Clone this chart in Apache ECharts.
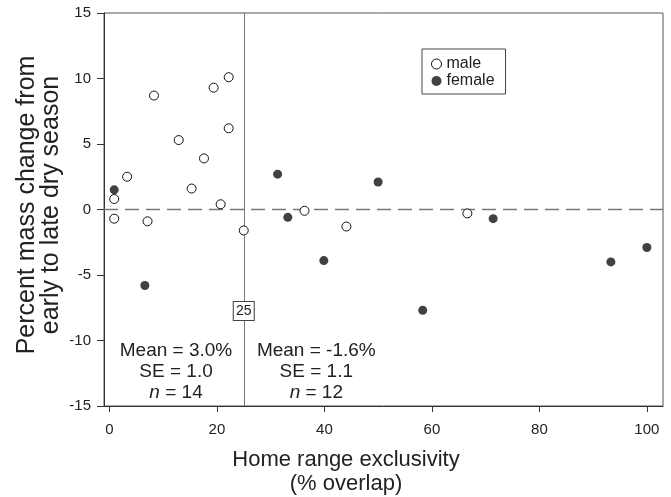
<!DOCTYPE html>
<html>
<head>
<meta charset="utf-8">
<script src="https://cdn.jsdelivr.net/npm/echarts@6/dist/echarts.min.js"></script>
<style>
html,body{margin:0;padding:0;background:#fff;}
#c{width:671px;height:497px;}
</style>
</head>
<body>
<div id="c"></div>
<script>
// Data
const maleX = [0.9, 0.9, 3.3, 7.1, 8.3, 12.9, 15.3, 17.6, 19.4, 20.7, 22.2, 22.2, 25.0, 36.3, 44.1, 66.6];
const maleY = [0.8, -0.7, 2.5, -0.9, 8.7, 5.3, 1.6, 3.9, 9.3, 0.4, 10.1, 6.2, -1.6, -0.1, -1.3, -0.3];
const femaleX = [0.9, 6.6, 31.3, 33.2, 39.9, 50.0, 58.3, 71.4, 93.3, 100.0];
const femaleY = [1.5, -5.8, 2.7, -0.6, -3.9, 2.1, -7.7, -0.7, -4.0, -2.9];
const xTicks = [0, 20, 40, 60, 80, 100];
const threshold = 25;
const leftStats = {mean: '3.0%', se: '1.0', n: 14};
const rightStats = {mean: '-1.6%', se: '1.1', n: 12};

const FONT = 'Liberation Sans, Arial, sans-serif';
const TXT = '#222';
const pair = (xs, ys) => xs.map((x, i) => [x, ys[i]]);
const statsLabel = s => '{a|Mean = ' + s.mean + '}\n{a|SE = ' + s.se + '}\n{i|n}{a| = ' + s.n + '}';
const rich = {
  a: {fontSize: 19, fontFamily: FONT, color: TXT, lineHeight: 21},
  i: {fontSize: 19, fontFamily: FONT, color: TXT, lineHeight: 21, fontStyle: 'italic'}
};

const chart = echarts.init(document.getElementById('c'), null, {renderer: 'canvas'});
chart.setOption({
  animation: false,
  backgroundColor: '#fff',
  grid: {left: 104, right: 8, top: 13, bottom: 91, show: true, borderColor: '#555', borderWidth: 1, backgroundColor: 'transparent'},
  legend: {
    orient: 'vertical', left: 422, top: 49,
    borderColor: '#444', borderWidth: 1, padding: [7, 11, 5, 9],
    itemWidth: 10, itemHeight: 10, itemGap: 1,
    itemStyle: {borderWidth: 1},
    textStyle: {fontSize: 16, fontFamily: FONT, color: TXT},
    data: [{name: 'male', icon: 'circle'}, {name: 'female', icon: 'circle'}]
  },
  xAxis: {
    type: 'value', min: -1, max: 103,
    axisLine: {show: true, onZero: false, lineStyle: {color: '#333'}},
    axisTick: {show: true, length: 6, customValues: xTicks, lineStyle: {color: '#333'}},
    axisLabel: {customValues: xTicks, margin: 16, fontSize: 15, fontFamily: FONT, color: TXT},
    splitLine: {show: false}
  },
  yAxis: {
    type: 'value', min: -15, max: 15, interval: 5,
    axisLine: {show: true, onZero: false, lineStyle: {color: '#333'}},
    axisTick: {show: true, length: 7, lineStyle: {color: '#333'}},
    axisLabel: {margin: 13, fontSize: 15, fontFamily: FONT, color: TXT},
    splitLine: {show: false}
  },
  graphic: [{
    type: 'text', x: 346, y: 448, silent: true,
    style: {text: 'Home range exclusivity\n(% overlap)', textAlign: 'center', font: '22px ' + FONT, fill: TXT, lineHeight: 24}
  }, {
    type: 'text', x: 39, y: 205, rotation: Math.PI / 2, silent: true,
    style: {text: 'Percent mass change from\nearly to late dry season', textAlign: 'center', textVerticalAlign: 'middle', font: '25px ' + FONT, fill: TXT, lineHeight: 24}
  }],
  series: [
    {
      name: 'male', type: 'scatter', symbol: 'circle', symbolSize: 9,
      itemStyle: {color: '#fff', borderColor: '#111', borderWidth: 1, opacity: 1},
      data: pair(maleX, maleY), z: 5,
      markLine: {
        silent: true, symbol: 'none', label: {show: false}, animation: false,
        data: [
          {yAxis: 0, lineStyle: {color: '#777', type: [14, 7], width: 1.3}},
          {xAxis: threshold, lineStyle: {color: '#777', type: 'solid', width: 1}}
        ]
      }
    },
    {
      name: 'female', type: 'scatter', symbol: 'circle', symbolSize: 9,
      itemStyle: {color: '#111'},
      data: pair(femaleX, femaleY), z: 5,
      markPoint: {
        silent: true, animation: false,
        data: [
          {coord: [threshold, -7.75], symbol: 'rect', symbolSize: [21, 19],
           itemStyle: {color: '#fff', borderColor: '#444', borderWidth: 1},
           label: {show: true, position: 'inside', formatter: String(threshold), fontSize: 14, fontFamily: FONT, color: TXT}},
          {coord: [12.4, -12.35], symbol: 'circle', symbolSize: 1, itemStyle: {color: 'rgba(0,0,0,0)'},
           label: {show: true, position: 'inside', align: 'center', formatter: statsLabel(leftStats), rich: rich}},
          {coord: [38.5, -12.35], symbol: 'circle', symbolSize: 1, itemStyle: {color: 'rgba(0,0,0,0)'},
           label: {show: true, position: 'inside', align: 'center', formatter: statsLabel(rightStats), rich: rich}}
        ]
      }
    }
  ]
});
</script>
</body>
</html>
